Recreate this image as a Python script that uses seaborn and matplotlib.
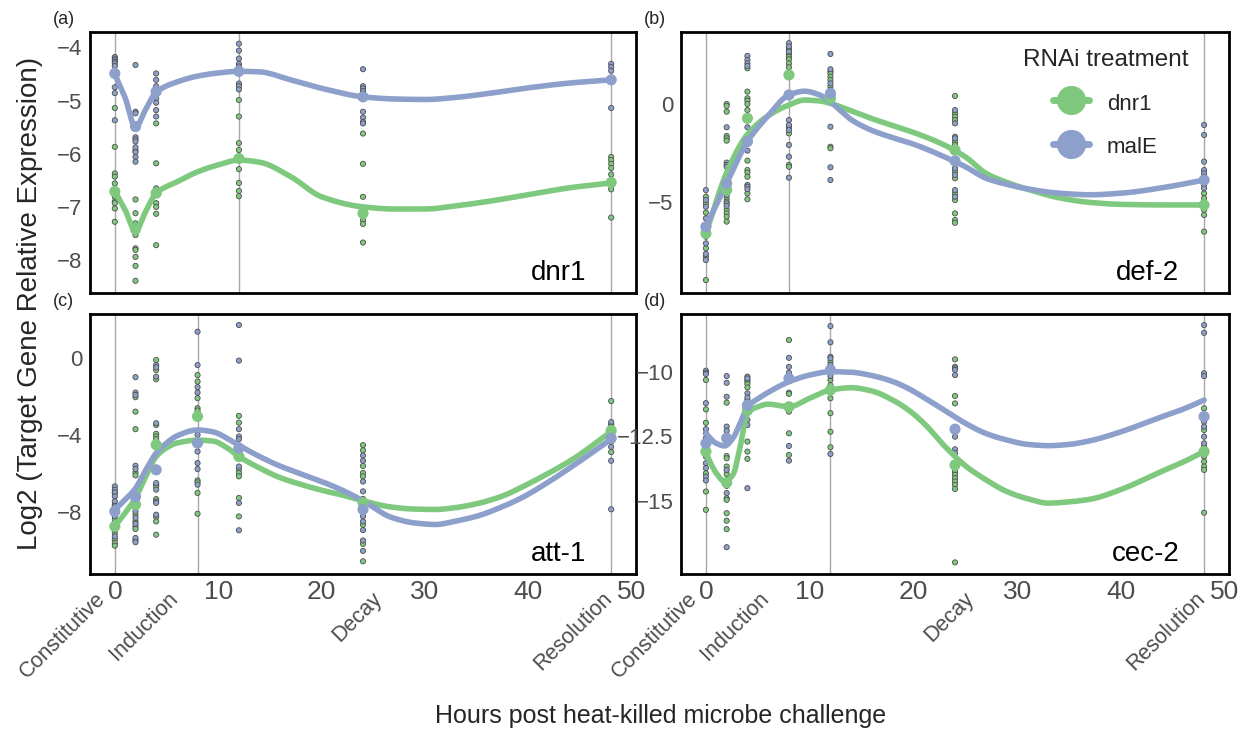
import numpy as np
import pandas as pd
import matplotlib
matplotlib.use('Agg')
import matplotlib.pyplot as plt
import matplotlib.transforms as mtransforms
from matplotlib.lines import Line2D
from matplotlib.ticker import FuncFormatter
import seaborn as sns

sns.set_style('white')
plt.rcParams['font.family'] = ['Liberation Sans', 'DejaVu Sans']

GREEN = '#7fc97f'
BLUE = '#8da0cb'
PALETTE = {'dnr1': GREEN, 'malE': BLUE}
GROUPS = ['dnr1', 'malE']

PHASE_LABELS = ['Constitutive', 'Induction', 'Decay', 'Resolution']
PHASE_POS = [-0.45, 6.5, 26.2, 48.5]

# --- (a) dnr1 ---
A_DNR1 = {0: [-5.14, -5.87, -6.37, -6.43, -6.56, -6.81, -6.90, -6.93, -7.03, -7.28],
          2: [-5.94, -6.86, -7.12, -7.31, -7.53, -7.78, -7.81, -7.94, -8.11, -8.39],
          4: [-5.43, -6.18, -6.65, -6.93, -7.00, -7.13, -7.72],
          12: [-4.99, -5.30, -5.80, -5.93, -6.29, -6.55, -6.70, -6.80],
          24: [-5.62, -6.19, -6.81, -7.06, -7.25, -7.32, -7.67],
          48: [-6.06, -6.12, -6.19, -6.27, -6.39, -6.60, -6.67, -7.20]}
A_MALE = {0: [-4.18, -4.21, -4.24, -4.27, -4.30, -4.35, -4.75, -4.86, -5.37],
          2: [-4.33, -5.21, -5.24, -5.69, -5.73, -5.77, -5.88, -5.97, -6.06, -6.15],
          4: [-4.49, -4.61, -4.73, -4.96, -5.04, -5.18, -5.30],
          12: [-3.93, -4.06, -4.21, -4.31, -4.36, -4.68, -4.73, -4.79],
          24: [-4.41, -4.73, -4.77, -4.82, -4.87, -5.21, -5.32, -5.40, -5.43],
          48: [-4.31, -4.37, -4.44, -4.64, -5.14]}
A_MEAN_T = [0, 2, 4, 12, 24, 48]
A_MEAN_DNR1 = [-6.71, -7.42, -6.74, -6.09, -7.12, -6.54]
A_MEAN_MALE = [-4.49, -5.49, -4.83, -4.45, -4.93, -4.61]
A_FIT_T = [0, 1, 2, 3, 4, 6, 8, 10, 12, 14, 17, 20, 24, 27, 30, 33, 36, 40, 44, 48]
A_FIT_DNR1 = [-6.70, -7.06, -7.45, -7.08, -6.74, -6.53, -6.34, -6.21, -6.12, -6.16,
              -6.43, -6.81, -7.00, -7.04, -7.04, -6.98, -6.90, -6.77, -6.64, -6.55]
A_FIT_MALE = [-4.50, -4.95, -5.50, -5.16, -4.84, -4.65, -4.54, -4.48, -4.45, -4.46,
              -4.61, -4.77, -4.93, -4.97, -4.98, -4.94, -4.87, -4.76, -4.67, -4.61]

# --- (b) def-2 ---
B_DNR1 = {0: [-4.73, -5.07, -5.54, -6.45, -6.77, -7.36, -7.79, -8.98],
          2: [0.0, -0.10, -0.39, -1.63, -1.75, -1.87, -4.81, -4.98, -5.41, -5.58, -5.75, -6.00],
          4: [1.82, 0.63, 0.29, 0.17, 0.0, -0.31, -2.89, -3.37, -3.50, -3.71, -4.56, -4.86],
          8: [2.79, 2.55, 2.41, 2.28, 2.07, 1.87, -1.19, -1.50, -3.11, -3.20],
          12: [1.65, 1.56, 1.39, 1.22, 0.88, 0.29, -2.18, -2.26],
          24: [0.41, -0.48, -0.65, -0.82, -1.92, -2.09, -3.03, -3.45, -3.79, -4.56, -4.90, -5.58, -5.92, -6.06],
          48: [-4.13, -4.56, -4.81, -5.41, -5.66, -6.51]}
B_MALE = {0: [-4.39, -4.90, -5.24, -5.83, -6.26, -7.11, -7.65, -7.96],
          2: [-1.19, -2.99, -3.11, -3.20, -4.64, -5.07, -5.20],
          4: [2.45, 2.24, 2.07, 1.94, -1.19, -2.38, -4.13, -4.22, -4.35],
          8: [3.10, 2.93, 2.67, -0.82, -1.07, -1.33, -2.09, -2.69, -3.76],
          12: [2.55, 1.77, 1.05, 0.71, -1.16, -3.23, -3.88],
          24: [-0.31, -0.99, -1.67, -1.75, -3.28, -3.62, -4.39, -4.73],
          48: [-1.07, -1.58, -2.94, -3.37, -3.54, -3.71, -4.30]}
B_MEAN_T = [0, 2, 4, 8, 12, 24, 48]
B_MEAN_DNR1 = [-6.60, -4.39, -0.73, 1.48, 0.30, -2.35, -5.15]
B_MEAN_MALE = [-6.26, -4.05, -1.92, 0.46, 0.54, -2.90, -3.88]
B_FIT_T = [0, 2, 4, 6, 8, 9.5, 11, 12, 13, 14, 16, 18, 20, 23, 25, 27, 29, 31, 34, 37, 40, 44, 48]
B_FIT_DNR1 = [-6.60, -3.50, -1.55, -0.60, -0.05, 0.20, 0.15, 0.03, -0.15, -0.35, -0.75, -1.10,
              -1.45, -2.10, -2.70, -3.54, -4.00, -4.35, -4.78, -5.02, -5.12, -5.15, -5.15]
B_FIT_MALE = [-6.26, -4.05, -1.92, -0.60, 0.46, 0.65, 0.45, 0.10, -0.35, -0.80, -1.35, -1.72,
              -2.05, -2.70, -3.20, -3.79, -4.10, -4.33, -4.55, -4.63, -4.55, -4.27, -3.88]

# --- (c) att-1 ---
C_DNR1 = {0: [-7.00, -7.60, -8.38, -8.73, -9.07, -9.41, -9.59, -9.73],
          2: [-2.02, -2.77, -3.68, -5.93, -6.08, -8.12, -8.47, -8.73, -8.86, -9.45],
          4: [-0.09, -0.61, -1.09, -3.46, -3.92, -4.06, -4.20, -6.56, -6.65, -7.31, -8.24, -8.47, -9.16],
          8: [-0.87, -1.21, -2.07, -2.59, -2.71, -6.34, -6.44, -6.99, -8.07],
          12: [-2.99, -3.34, -5.79, -5.96, -6.13, -7.25, -8.21],
          24: [-4.51, -4.78, -5.59, -5.95, -6.13, -7.30, -8.65, -9.64, -10.54],
          48: [-2.22, -3.43, -3.70, -4.33, -4.87]}
C_MALE = {0: [-6.65, -6.82, -6.96, -7.17, -7.43, -7.69, -8.21, -8.90, -9.25],
          2: [-0.98, -1.78, -1.90, -5.58, -5.75, -7.95, -8.29, -8.59, -9.33, -9.55],
          4: [-0.35, -0.47, -0.95, -3.37, -6.48, -6.82, -7.43, -7.51, -8.12],
          8: [1.38, -0.35, -1.50, -1.78, -3.97, -4.84, -5.44, -5.75, -6.56],
          12: [1.73, -0.12, -3.68, -4.06, -4.20, -5.62, -7.51, -8.93],
          24: [-5.05, -5.32, -6.40, -6.91, -8.20, -8.47, -8.92, -9.46, -10.00],
          48: [-3.31, -3.55, -3.88, -4.60, -5.32, -7.84]}
C_MEAN_T = [0, 2, 4, 8, 12, 24, 48]
C_MEAN_DNR1 = [-8.73, -7.60, -4.49, -3.02, -5.10, -7.50, -3.75]
C_MEAN_MALE = [-7.95, -7.20, -5.79, -4.40, -4.66, -7.85, -4.15]
C_FIT_T = [0, 1, 2, 3, 4, 5, 6, 8, 9.5, 11, 12, 14, 16, 18, 20, 22, 24, 26.7, 29, 31, 33,
           35, 37.5, 39.5, 42, 44.4, 46, 48]
C_FIT_DNR1 = [-8.73, -8.03, -7.25, -6.13, -5.10, -4.65, -4.40, -4.25, -4.30, -4.70, -5.10, -5.70,
              -6.20, -6.55, -6.85, -7.10, -7.40, -7.72, -7.83, -7.85, -7.75, -7.55, -7.15, -6.65,
              -5.95, -5.20, -4.60, -3.80]
C_FIT_MALE = [-7.87, -7.34, -6.75, -5.79, -4.92, -4.40, -4.03, -3.72, -3.82, -4.20, -4.52, -5.10,
              -5.60, -6.00, -6.40, -6.85, -7.40, -8.25, -8.55, -8.63, -8.45, -8.20, -7.70, -7.20,
              -6.40, -5.55, -4.95, -4.20]

# --- (d) cec-2 ---
D_DNR1 = {0: [-10.32, -11.46, -11.98, -12.39, -13.03, -13.94, -14.65, -15.36],
          2: [-11.20, -12.71, -13.27, -13.36, -13.68, -13.97, -14.43, -14.91, -14.97, -15.49, -15.78, -16.11],
          4: [-10.32, -10.39, -10.48, -10.61, -11.10, -11.61, -12.71, -13.10, -13.38],
          8: [-8.77, -10.81, -10.86, -11.48, -11.55, -12.39, -13.23],
          12: [-9.61, -10.32, -10.52, -11.03, -11.61, -12.33, -12.93],
          24: [-9.52, -10.94, -11.23, -13.68, -13.88, -14.00, -14.13, -14.26, -14.39, -14.55, -17.40],
          48: [-11.42, -12.26, -12.91, -13.29, -13.49, -13.68, -13.81, -15.47]}
D_MALE = {0: [-9.96, -10.04, -10.09, -11.22, -12.23, -12.58, -13.29, -13.55, -13.74, -14.07, -14.22],
          2: [-10.17, -10.43, -10.97, -12.13, -12.29, -13.81, -14.71, -16.81],
          4: [-10.19, -10.26, -10.84, -11.00, -11.22, -11.48, -11.87, -12.07, -14.52],
          8: [-9.46, -9.81, -10.04, -11.29, -12.88, -13.45],
          12: [-8.23, -8.86, -9.42, -9.48, -9.74, -10.17, -13.19],
          24: [-9.81, -9.87, -9.93, -10.13, -12.52, -13.01, -13.16],
          48: [-8.19, -8.49, -10.06, -10.17, -11.94, -12.13, -12.52, -12.78]}
D_MEAN_T = [0, 2, 4, 8, 12, 24, 48]
D_MEAN_DNR1 = [-13.10, -14.30, -11.50, -11.36, -10.71, -13.62, -13.10]
D_MEAN_MALE = [-12.78, -12.58, -11.30, -10.26, -9.93, -12.23, -11.74]
D_FIT_T = [0, 1, 1.8, 2.6, 3.3, 4, 5, 6, 8, 10, 12, 14, 16, 18, 19.5, 21, 23.2, 25, 27, 29,
           31, 33, 35, 37, 40, 43.5, 46, 48]
D_FIT_DNR1 = [-13.16, -13.94, -14.26, -14.00, -12.91, -11.61, -11.36, -11.26, -11.36, -11.03,
              -10.71, -10.62, -10.75, -11.10, -11.48, -12.00, -12.97, -13.65, -14.20, -14.65,
              -14.93, -15.10, -15.05, -14.95, -14.57, -13.94, -13.50, -13.10]
D_FIT_MALE = [-12.40, -12.78, -12.88, -12.58, -12.00, -11.36, -11.05, -10.80, -10.39, -10.13,
              -10.00, -10.02, -10.15, -10.38, -10.65, -11.00, -11.55, -12.00, -12.40, -12.65,
              -12.82, -12.87, -12.82, -12.68, -12.33, -11.81, -11.45, -11.10]

PANELS = [
    dict(tag='(a)', gene='dnr1', pts=(A_DNR1, A_MALE), mean=(A_MEAN_T, A_MEAN_DNR1, A_MEAN_MALE),
         fit=(A_FIT_T, A_FIT_DNR1, A_FIT_MALE), vlines=[0, 12, 48], ylim=(-8.62, -3.71),
         yticks=[-8, -7, -6, -5, -4], rect=(90, 32, 636, 293)),
    dict(tag='(b)', gene='def-2', pts=(B_DNR1, B_MALE), mean=(B_MEAN_T, B_MEAN_DNR1, B_MEAN_MALE),
         fit=(B_FIT_T, B_FIT_DNR1, B_FIT_MALE), vlines=[0, 8, 48], ylim=(-9.64, 3.67),
         yticks=[-5, 0], rect=(681, 32, 1229, 293)),
    dict(tag='(c)', gene='att-1', pts=(C_DNR1, C_MALE), mean=(C_MEAN_T, C_MEAN_DNR1, C_MEAN_MALE),
         fit=(C_FIT_T, C_FIT_DNR1, C_FIT_MALE), vlines=[0, 8, 48], ylim=(-11.2, 2.3),
         yticks=[-8, -4, 0], rect=(90, 314, 636, 574)),
    dict(tag='(d)', gene='cec-2', pts=(D_DNR1, D_MALE), mean=(D_MEAN_T, D_MEAN_DNR1, D_MEAN_MALE),
         fit=(D_FIT_T, D_FIT_DNR1, D_FIT_MALE), vlines=[0, 12, 48], ylim=(-17.85, -7.76),
         yticks=[-15, -12.5, -10], rect=(681, 314, 1229, 574)),
]

W, H = 1239, 731


def pchip(x, y, xs):
    # monotone cubic through the read-off knots, just for drawing a smooth line
    x = np.asarray(x, float)
    y = np.asarray(y, float)
    h = np.diff(x)
    d = np.diff(y) / h
    m = np.zeros_like(y)
    for k in range(1, len(x) - 1):
        if d[k - 1] * d[k] > 0:
            w1 = 2 * h[k] + h[k - 1]
            w2 = h[k] + 2 * h[k - 1]
            m[k] = (w1 + w2) / (w1 / d[k - 1] + w2 / d[k])
    m[0], m[-1] = d[0], d[-1]
    i = np.clip(np.searchsorted(x, xs) - 1, 0, len(h) - 1)
    t = (xs - x[i]) / h[i]
    return ((2 * t**3 - 3 * t**2 + 1) * y[i] + (t**3 - 2 * t**2 + t) * h[i] * m[i]
            + (-2 * t**3 + 3 * t**2) * y[i + 1] + (t**3 - t**2) * h[i] * m[i + 1])


def points_frame(p):
    rows = []
    for grp, d in zip(GROUPS, p):
        for t, vals in d.items():
            rows += [(t, v, grp) for v in vals]
    return pd.DataFrame(rows, columns=['hour', 'value', 'group'])


def mean_frame(m):
    t, dn, ma = m
    return pd.DataFrame({'hour': list(t) * 2, 'value': list(dn) + list(ma),
                         'group': ['dnr1'] * len(t) + ['malE'] * len(t)})


def fit_frame(f):
    t, dn, ma = f
    xs = np.linspace(t[0], t[-1], 400)
    return pd.DataFrame({'hour': np.concatenate([xs, xs]),
                         'value': np.concatenate([pchip(t, dn, xs), pchip(t, ma, xs)]),
                         'group': ['dnr1'] * len(xs) + ['malE'] * len(xs)})


minus_fmt = FuncFormatter(lambda v, pos: ('%g' % v).replace('-', '\u2212'))

fig = plt.figure(figsize=(W / 100, H / 100), dpi=100)

for i, p in enumerate(PANELS):
    l, t, r, b = p['rect']
    ax = fig.add_axes([l / W, 1 - b / H, (r - l) / W, (b - t) / H])
    for v in p['vlines']:
        ax.axvline(v, color='#a8a8a8', lw=1.0, zorder=0)

    sns.scatterplot(data=points_frame(p['pts']), x='hour', y='value', hue='group',
                    hue_order=GROUPS, palette=PALETTE, s=14, edgecolor='#4d4d4d',
                    linewidth=0.6, legend=False, ax=ax, zorder=2)
    sns.lineplot(data=fit_frame(p['fit']), x='hour', y='value', hue='group',
                 hue_order=GROUPS, palette=PALETTE, lw=4, estimator=None,
                 legend=False, ax=ax, zorder=3, solid_capstyle='round')
    sns.scatterplot(data=mean_frame(p['mean']), x='hour', y='value', hue='group',
                    hue_order=GROUPS, palette=PALETTE, s=65, edgecolor='none',
                    legend=False, ax=ax, zorder=4)

    ax.set_xlim(-2.4, 50.4)
    ax.set_ylim(*p['ylim'])
    ax.set_xticks([0, 10, 20, 30, 40, 50])
    ax.set_yticks(p['yticks'])
    ax.yaxis.set_major_formatter(minus_fmt)
    ax.set_xlabel('')
    ax.set_ylabel('')
    ax.tick_params(axis='both', direction='out', length=2.5, width=0.8, color='#333333',
                   labelcolor='#4d4d4d', pad=3)
    ax.tick_params(axis='y', labelsize=16)
    ax.tick_params(axis='x', labelsize=19, pad=2)
    if i < 2:
        ax.tick_params(axis='x', labelbottom=False)
    else:
        trans = mtransforms.blended_transform_factory(ax.transData, ax.transAxes)
        for pos, lab in zip(PHASE_POS, PHASE_LABELS):
            ax.text(pos, -0.055, lab, transform=trans, rotation=45, ha='right', va='top',
                    fontsize=15.5, color='#4d4d4d', clip_on=False)
    for s in ax.spines.values():
        s.set_visible(True)
        s.set_color('black')
        s.set_linewidth(2.0)

    ax.text(0.909, 0.05, p['gene'], transform=ax.transAxes, ha='right', va='baseline',
            fontsize=20, color='black')
    fig.text((l - 37) / W, 1 - (t - 12) / H, p['tag'], ha='left', va='center', fontsize=13)

    if i == 1:
        handles = [Line2D([0], [0], color=PALETTE[g], lw=5, marker='o', markersize=20,
                          markeredgecolor=PALETTE[g]) for g in GROUPS]
        ax.legend(handles, GROUPS, title='RNAi treatment', loc='upper right',
                  bbox_to_anchor=(0.962, 1.01), frameon=False, fontsize=16,
                  title_fontsize=17.5, handlelength=1.6, handleheight=1.3,
                  labelspacing=0.85, handletextpad=0.8)

fig.text(30 / W, 1 - 303 / H, 'Log2 (Target Gene Relative Expression)', rotation=90,
         ha='center', va='center', fontsize=20)
fig.text(661 / W, 1 - 716 / H, 'Hours post heat-killed microbe challenge',
         ha='center', va='center', fontsize=18)

fig.savefig('out.png', dpi=100, facecolor='white')
